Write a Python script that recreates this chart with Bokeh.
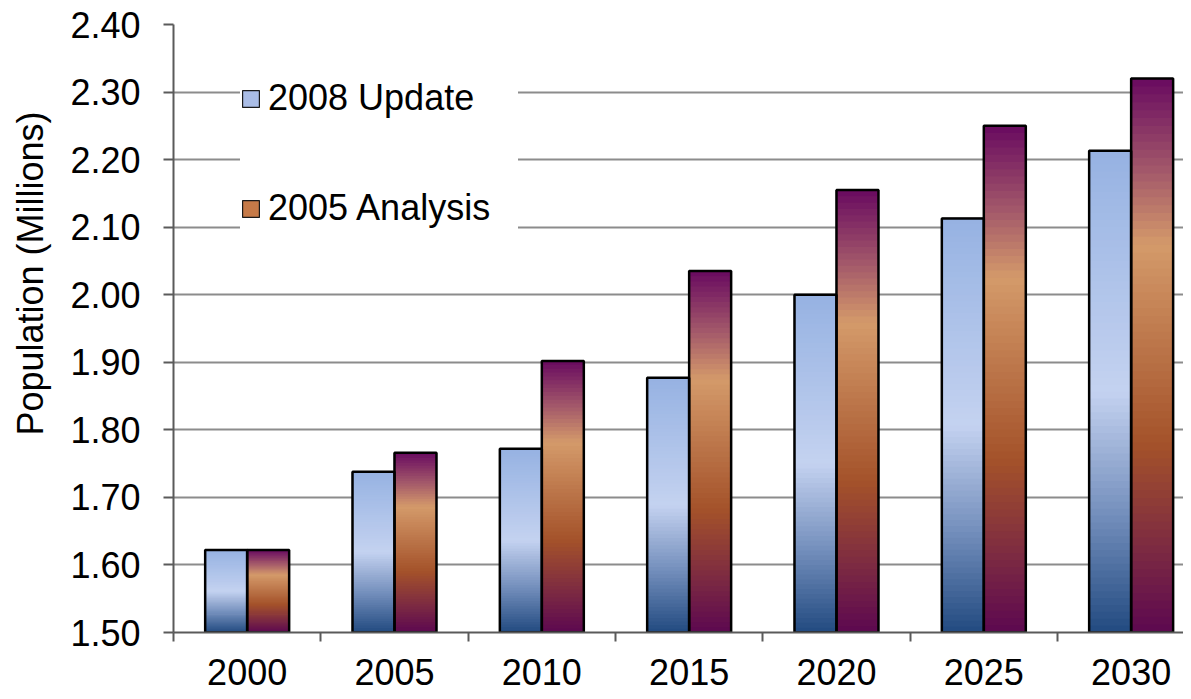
from bokeh.plotting import figure
from bokeh.models import (Range1d, FixedTicker, NumeralTickFormatter, Legend,
                          LegendItem, ColumnDataSource)
from bokeh.embed import file_html
from bokeh.resources import INLINE

# ---------------- data ----------------
years = ["2000", "2005", "2010", "2015", "2020", "2025", "2030"]
update_2008 = [1.622, 1.738, 1.772, 1.877, 2.000, 2.113, 2.213]
analysis_2005 = [1.622, 1.766, 1.902, 2.035, 2.155, 2.250, 2.320]
y_ticks = [1.50, 1.60, 1.70, 1.80, 1.90, 2.00, 2.10, 2.20, 2.30, 2.40]
series_names = ["2008 Update", "2005 Analysis"]
y_title = "Population (Millions)"

# ---------------- styles ----------------
FONT = "Liberation Sans"
BASE = 1.50
BAR_W = 0.285
N_SLICES = 70
PX_PER_CAT = 147.33
FRAME_W = 1010

blue_stops = [(0.0, "#224a80"), (0.25, "#7590bd"), (0.5, "#c4d2f0"), (1.0, "#96b2e2")]
purple_stops = [(0.0, "#5c0850"), (0.15, "#7c2a42"), (0.34, "#a4522a"), (0.70, "#d49a6a"),
                (0.83, "#a45a6a"), (1.0, "#680a60")]


def hex2rgb(h):
    h = h.lstrip("#")
    return tuple(int(h[i:i + 2], 16) for i in (0, 2, 4))


def grad(stops, f):
    for (f0, c0), (f1, c1) in zip(stops[:-1], stops[1:]):
        if f0 <= f <= f1:
            t = (f - f0) / (f1 - f0)
            a, b = hex2rgb(c0), hex2rgb(c1)
            r = [round(a[i] + (b[i] - a[i]) * t) for i in range(3)]
            return "#%02x%02x%02x" % tuple(r)
    return stops[-1][1]


def slices(values, offset, stops):
    L, R, B, T, C = [], [], [], [], []
    for i, v in enumerate(values):
        h = (v - BASE) / N_SLICES
        left = i + offset
        for k in range(N_SLICES):
            b = BASE + k * h
            t = min(v, b + 1.6 * h)
            L.append(left)
            R.append(left + BAR_W)
            B.append(b)
            T.append(t)
            C.append(grad(stops, (k + 0.5) / N_SLICES))
    return ColumnDataSource(dict(left=L, right=R, bottom=B, top=T, color=C))


p = figure(frame_width=FRAME_W, frame_height=608, min_border_left=173, min_border_right=0,
           min_border_top=24, min_border_bottom=59,
           x_range=Range1d(-0.5, -0.5 + FRAME_W / PX_PER_CAT), y_range=Range1d(1.5, 2.4),
           output_backend="svg", toolbar_location=None)
p.outline_line_color = None
p.background_fill_color = "white"
p.border_fill_color = "white"

xs = list(range(len(years)))

# base bars (solid, also used as legend glyphs)
r1 = p.quad(left=[x - BAR_W for x in xs], right=xs, bottom=BASE, top=update_2008,
            fill_color="#aabde6", line_color="#1a1a1a", line_width=1.2)
r2 = p.quad(left=xs, right=[x + BAR_W for x in xs], bottom=BASE, top=analysis_2005,
            fill_color="#c67a48", line_color="#1a1a1a", line_width=1.2)

# gradient fills
p.quad(left="left", right="right", bottom="bottom", top="top", fill_color="color",
       line_color=None, source=slices(update_2008, -BAR_W, blue_stops))
p.quad(left="left", right="right", bottom="bottom", top="top", fill_color="color",
       line_color=None, source=slices(analysis_2005, 0.0, purple_stops))

# outlines
p.quad(left=[x - BAR_W for x in xs], right=xs, bottom=BASE, top=update_2008,
       fill_color=None, line_color="black", line_width=2.5)
p.quad(left=xs, right=[x + BAR_W for x in xs], bottom=BASE, top=analysis_2005,
       fill_color=None, line_color="black", line_width=2.5)

legend = Legend(items=[LegendItem(label=series_names[0], renderers=[r1]),
                       LegendItem(label=series_names[1], renderers=[r2])],
                location=(67, 396), orientation="vertical", glyph_width=21, glyph_height=21,
                label_standoff=7, spacing=54, padding=32, margin=0, label_width=250,
                label_height=56,
                background_fill_color="white", background_fill_alpha=1.0,
                border_line_color=None, label_text_font_size="36px", label_text_font=FONT,
                label_text_color="black")
p.add_layout(legend)

# axes
p.yaxis.ticker = FixedTicker(ticks=y_ticks)
p.yaxis.formatter = NumeralTickFormatter(format="0.00")
p.xaxis.ticker = FixedTicker(ticks=xs, minor_ticks=[x - 0.5 for x in xs] + [len(xs) - 0.5])
p.xaxis.major_label_overrides = {i: y for i, y in enumerate(years)}

for ax in (p.xaxis[0], p.yaxis[0]):
    ax.axis_line_color = "#5a5a5a"
    ax.axis_line_width = 2
    ax.major_label_text_font = FONT
    ax.major_label_text_font_size = "36px"
    ax.major_label_text_color = "black"

p.yaxis.major_tick_line_color = "#5a5a5a"
p.yaxis.major_tick_line_width = 2
p.yaxis.major_tick_out = 10
p.yaxis.major_tick_in = 0
p.yaxis.minor_tick_line_color = None
p.yaxis.major_label_standoff = 23

p.yaxis.axis_label = "\u00a0" * 11 + y_title
p.yaxis.axis_label_text_font = FONT
p.yaxis.axis_label_text_font_size = "36px"
p.yaxis.axis_label_text_font_style = "normal"
p.yaxis.axis_label_text_color = "black"
p.yaxis.axis_label_standoff = 16

p.xaxis.major_tick_line_color = None
p.xaxis.major_tick_out = 0
p.xaxis.major_tick_in = 0
p.xaxis.minor_tick_line_color = "#5a5a5a"
p.xaxis.minor_tick_line_width = 2
p.xaxis.minor_tick_out = 9
p.xaxis.minor_tick_in = 0
p.xaxis.major_label_standoff = 17

p.xgrid.visible = False
p.ygrid.grid_line_color = "#8c8c8c"
p.ygrid.grid_line_width = 2

open("out.html", "w").write(file_html(p, INLINE))
